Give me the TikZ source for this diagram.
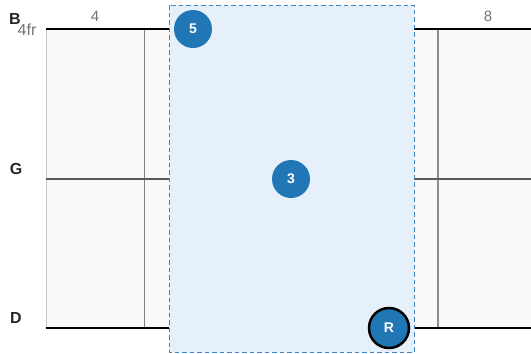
\documentclass[tikz,border=0pt]{standalone}
\usepackage{fontspec}
\setmainfont{Liberation Sans}
\begin{document}
\begin{tikzpicture}[x=1pt,y=-1pt,
  dotnode/.style={circle,fill=dotblue,minimum size=38pt,inner sep=0pt,text=white,font=\fontsize{14}{14}\selectfont\bfseries},
  rootnode/.style={dotnode,draw=black,line width=2.5pt,minimum size=40pt},
  strname/.style={font=\fontsize{16}{16}\selectfont\bfseries,text=black!85},
  fretnum/.style={font=\fontsize{15}{15}\selectfont,text=black!55},
  fretline/.style={draw=black!50,line width=1pt}]
\definecolor{dotblue}{HTML}{2176B5}
\definecolor{hlfill}{HTML}{E6F0FA}
\definecolor{hlborder}{HTML}{3F85C4}
\definecolor{boardfill}{HTML}{F9F9F7}
\useasboundingbox (0,0) rectangle (531,354);
% board
\fill[boardfill] (46,29) rectangle (531,328);
\draw[black!20,line width=1pt] (46,29) -- (46,328);
\draw[fretline] (144,29) -- (144,328);
\draw[black!45,line width=1.5pt] (438,29) -- (438,328);
% strings
\draw[black,line width=1.3pt] (46,29) -- (531,29);
\draw[black!65,line width=1.8pt] (46,179) -- (531,179);
\draw[black,line width=1.3pt] (46,328) -- (531,328);
% highlight
\draw[hlborder,fill=hlfill,line width=1pt,dash pattern=on 4.5pt off 3pt] (169,5) rectangle (414,352);
% labels
\node[strname] (sB) at (15,19) {B};
\node[strname] (sG) at (16,169) {G};
\node[strname] (sD) at (16,318) {D};
\node[fretnum,font=\fontsize{16}{16}\selectfont] (fr) at (27,30) {4fr};
\node[fretnum] (f4) at (95,16) {4};
\node[fretnum] (f8) at (488,16) {8};
% dots
\node[dotnode] (d5) at (193,29) {5};
\node[dotnode] (d3) at (291,179) {3};
\node[rootnode] (dR) at (389,328) {R};
\end{tikzpicture}
\end{document}
